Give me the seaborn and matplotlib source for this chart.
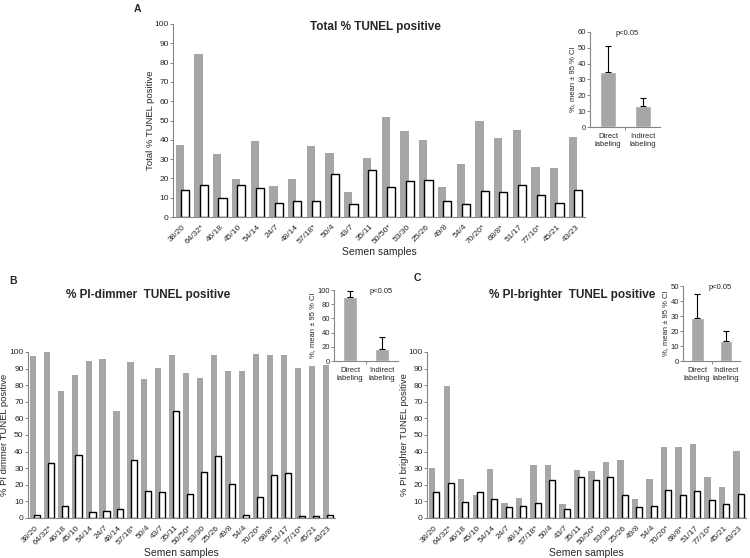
import pandas as pd
import matplotlib.pyplot as plt
import seaborn as sns

# Data (Direct = grey bars, Indirect = white bars)
samples = ["38/20", "64/32*", "46/18", "45/10", "54/14", "24/7", "48/14", "57/18*",
           "50/4", "43/7", "35/11", "50/50*", "53/30", "25/26", "49/8", "54/4",
           "70/20*", "68/8*", "51/17", "77/10*", "45/21", "43/23"]

total_direct = [37.4, 84.7, 32.6, 19.7, 39.5, 16.1, 19.7, 36.9, 33.4, 12.9, 30.5,
                51.8, 44.6, 40.1, 15.6, 27.4, 49.7, 41.0, 44.9, 25.7, 25.2, 41.3]
total_indirect = [14.2, 16.5, 9.6, 16.8, 14.9, 7.5, 8.1, 8.1, 22.5, 6.9, 24.5,
                  15.6, 18.5, 19.4, 8.4, 6.9, 13.4, 12.9, 16.5, 11.3, 7.5, 14.2]

dimmer_direct = [97.5, 100, 76.5, 86, 94.6, 96, 64.7, 93.7, 83.5, 90.5, 98.4,
                 87.3, 84.5, 98, 88.7, 88.7, 99, 98, 98.4, 90.2, 91.4, 92]
dimmer_indirect = [2, 33, 7.3, 38, 3.4, 4.4, 5.4, 35, 16.2, 15.8, 64.6,
                   14.4, 28, 37.2, 20.4, 2, 12.4, 25.6, 27, 1, 1, 2]

brighter_direct = [30, 79.6, 23.4, 13.6, 29.4, 9.2, 12, 32.2, 31.8, 8.4, 28.8,
                   28.2, 33.6, 35, 11.6, 23.4, 42.6, 42.6, 44.4, 24.8, 18.4, 40.2]
brighter_indirect = [15.4, 21, 9.6, 15.4, 11.4, 6.6, 7.4, 8.8, 22.8, 5.4, 24.8,
                     22.8, 24.8, 13.8, 6.4, 7.4, 16.8, 13.8, 16.4, 10.8, 8.4, 14.4]

# insets: mean and upper 95 % CI
inset_labels = ["Direct\nlabeling", "Indirect\nlabeling"]
total_mean = [35, 13]
total_upper = [51, 18.5]
dimmer_mean = [90.5, 17.5]
dimmer_upper = [98, 33.5]
brighter_mean = [29, 13.5]
brighter_upper = [45, 20]

GREY = "#a6a6a6"
AXIS = "#868686"
TXT = "#262626"

sns.set_style("white")
plt.rcParams['font.family'] = ['Liberation Sans', 'DejaVu Sans']


def style_axes(ax, tick_size):
    sns.despine(ax=ax)
    for side in ["left", "bottom"]:
        ax.spines[side].set_color(AXIS)
        ax.spines[side].set_linewidth(0.8)
    ax.tick_params(axis="y", left=True, length=2, width=0.7, color=AXIS,
                   labelsize=tick_size, labelcolor=TXT, pad=1)
    ax.tick_params(axis="x", bottom=False, labelsize=tick_size, labelcolor=TXT, pad=1)


def plot_samples(ax, direct, indirect, ylabel):
    n = len(samples)
    df = pd.DataFrame({
        "sample": samples * 2,
        "method": ["Direct"] * n + ["Indirect"] * n,
        "value": direct + indirect,
    })
    sns.barplot(data=df, x="sample", y="value", hue="method",
                palette=[GREY, "white"], saturation=1, width=0.56,
                legend=False, ax=ax)
    # Excel style: bars of a pair overlap a bit
    for i, container in enumerate(ax.containers):
        for bar in container:
            c = bar.get_x() + bar.get_width() / 2
            bar.set_width(0.44)
            bar.set_x(c - 0.22)
            if i == 1:
                bar.set_edgecolor("black")
                bar.set_linewidth(1.0)
            else:
                bar.set_edgecolor("none")
    ax.set_xlim(-0.5, n - 0.5)
    ax.set_ylim(0, 100)
    ax.set_yticks(range(0, 101, 10))
    style_axes(ax, 6)
    plt.setp(ax.get_xticklabels(), rotation=45, ha="right", rotation_mode="anchor")
    ax.set_xlabel("Semen samples", fontsize=7.5, color=TXT, labelpad=1)
    ax.set_ylabel(ylabel, fontsize=6.8, color=TXT, labelpad=0)


def plot_inset(ax, mean, upper, ymax, step, p_x):
    sns.barplot(x=inset_labels, y=mean, color=GREY, saturation=1, width=0.44, ax=ax)
    plus = [u - m for u, m in zip(upper, mean)]
    ax.errorbar(x=[0, 1], y=mean, yerr=[[0, 0], plus], fmt="none",
                ecolor="black", elinewidth=0.8, capsize=2.5, capthick=0.8)
    ax.set_xlim(-0.5, 1.5)
    ax.set_ylim(0, ymax)
    ax.set_yticks(range(0, ymax + 1, step))
    style_axes(ax, 5.5)
    ax.set_xticks([0.5], minor=True)
    ax.tick_params(axis="x", which="minor", bottom=True, length=2.5, width=0.7, color=AXIS)
    ax.set_ylabel("%, mean ± 95 % CI", fontsize=5.5, color=TXT, labelpad=1)
    ax.text(p_x, 0.98, "p<0.05", transform=ax.transAxes, fontsize=5.5,
            color=TXT, ha="center", va="center")


fig = plt.figure(figsize=(7.5, 5.58), dpi=100)

ax_a = fig.add_axes([0.2307, 0.6111, 0.5493, 0.3459])
ax_a_in = fig.add_axes([0.7873, 0.7724, 0.0933, 0.1703])
ax_b = fig.add_axes([0.0370, 0.0717, 0.4093, 0.2975])
ax_b_in = fig.add_axes([0.4453, 0.3530, 0.0853, 0.1272])
ax_c = fig.add_axes([0.5693, 0.0717, 0.4253, 0.2975])
ax_c_in = fig.add_axes([0.9107, 0.3530, 0.0760, 0.1344])

plot_samples(ax_a, total_direct, total_indirect, "Total % TUNEL positive")
plot_samples(ax_b, dimmer_direct, dimmer_indirect, "% PI dimmer TUNEL positive")
plot_samples(ax_c, brighter_direct, brighter_indirect, "% PI brighter TUNEL positive")

plot_inset(ax_a_in, total_mean, total_upper, 60, 10, 0.52)
plot_inset(ax_b_in, dimmer_mean, dimmer_upper, 100, 20, 0.73)
plot_inset(ax_c_in, brighter_mean, brighter_upper, 50, 10, 0.65)

# titles and panel letters
fig.text(0.501, 0.952, "Total % TUNEL positive", fontsize=8.5, fontweight="bold",
         ha="center", va="center")
fig.text(0.197, 0.471, "% PI-dimmer  TUNEL positive", fontsize=8.5, fontweight="bold",
         ha="center", va="center")
fig.text(0.763, 0.471, "% PI-brighter  TUNEL positive", fontsize=8.5, fontweight="bold",
         ha="center", va="center")
fig.text(0.183, 0.984, "A", fontsize=7.5, fontweight="bold", ha="center", va="center")
fig.text(0.017, 0.497, "B", fontsize=7.5, fontweight="bold", ha="center", va="center")
fig.text(0.556, 0.502, "C", fontsize=7.5, fontweight="bold", ha="center", va="center")

fig.savefig("out.png", dpi=100)
